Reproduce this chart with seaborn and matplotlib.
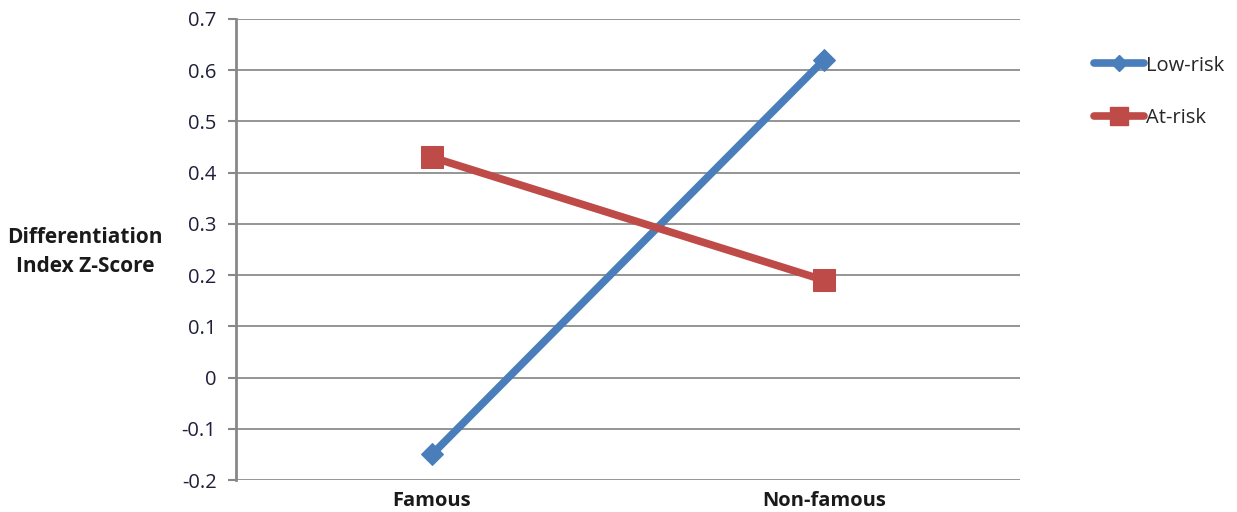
import matplotlib
matplotlib.use("Agg")
import matplotlib.pyplot as plt
import seaborn as sns
import pandas as pd
from matplotlib.lines import Line2D

categories = ["Famous", "Non-famous"]
series_names = ["Low-risk", "At-risk"]
low_risk = [-0.15, 0.62]
at_risk = [0.43, 0.19]
yticks = [-0.2, -0.1, 0, 0.1, 0.2, 0.3, 0.4, 0.5, 0.6, 0.7]
ytick_labels = ["-0.2", "-0.1", "0", "0.1", "0.2", "0.3", "0.4", "0.5", "0.6", "0.7"]

df = pd.DataFrame({
    "cat": categories * 2,
    "pos": [0, 1] * 2,
    "val": low_risk + at_risk,
    "series": [series_names[0]] * 2 + [series_names[1]] * 2,
})

sns.set_style("white")
plt.rcParams["font.family"] = ["Open Sans", "DejaVu Sans"]

colors = {"Low-risk": "#4a7ebb", "At-risk": "#be4b48"}
markers = {"Low-risk": "D", "At-risk": "s"}
msizes = {"Low-risk": 11, "At-risk": 16.5}

fig = plt.figure(figsize=(12.37, 5.12), dpi=100)
ax = fig.add_axes([0.1908, 0.0625, 0.6338, 0.9005])

for name in series_names:
    sub = df[df["series"] == name]
    sns.lineplot(data=sub, x="pos", y="val", color=colors[name], linewidth=5.5,
                 marker=markers[name], markersize=msizes[name],
                 markeredgecolor=colors[name], ax=ax, legend=False, zorder=3)

ax.set_xlim(-0.5, 1.5)
ax.set_ylim(-0.2, 0.7)
ax.set_yticks(yticks)
ax.set_yticklabels(ytick_labels, fontsize=14.5, color="#1f1f3a")
ax.set_xticks([0, 1])
ax.set_xticklabels(categories, fontsize=14.5, fontweight="bold", color="#1a1a1a")
ax.tick_params(axis="x", length=0, pad=8)
ax.tick_params(axis="y", length=6, width=1.5, color="#888888", pad=8, left=True)
ax.grid(axis="y", color="#8c8c8c", linewidth=1.3)
ax.set_axisbelow(True)
for s in ["top", "right", "bottom"]:
    ax.spines[s].set_visible(False)
ax.spines["left"].set_color("#888888")
ax.spines["left"].set_linewidth(2)
ax.set_xlabel("")
ax.set_ylabel("")

fig.text(0.069, 0.507, "Differentiation\nIndex Z-Score", ha="center", va="center",
         fontsize=15, fontweight="bold", color="#1a1a1a", linespacing=1.5)

handles = [Line2D([0], [0], color=colors[n], linewidth=5.5, marker=markers[n],
                  markersize=msizes[n] * 0.75, markeredgecolor=colors[n]) for n in series_names]
fig.legend(handles, series_names, loc="upper left", bbox_to_anchor=(0.8695, 0.927),
           frameon=False, fontsize=14.5, handlelength=2.5, handletextpad=0.1,
           labelspacing=1.6)

fig.savefig("out.png", dpi=100)
